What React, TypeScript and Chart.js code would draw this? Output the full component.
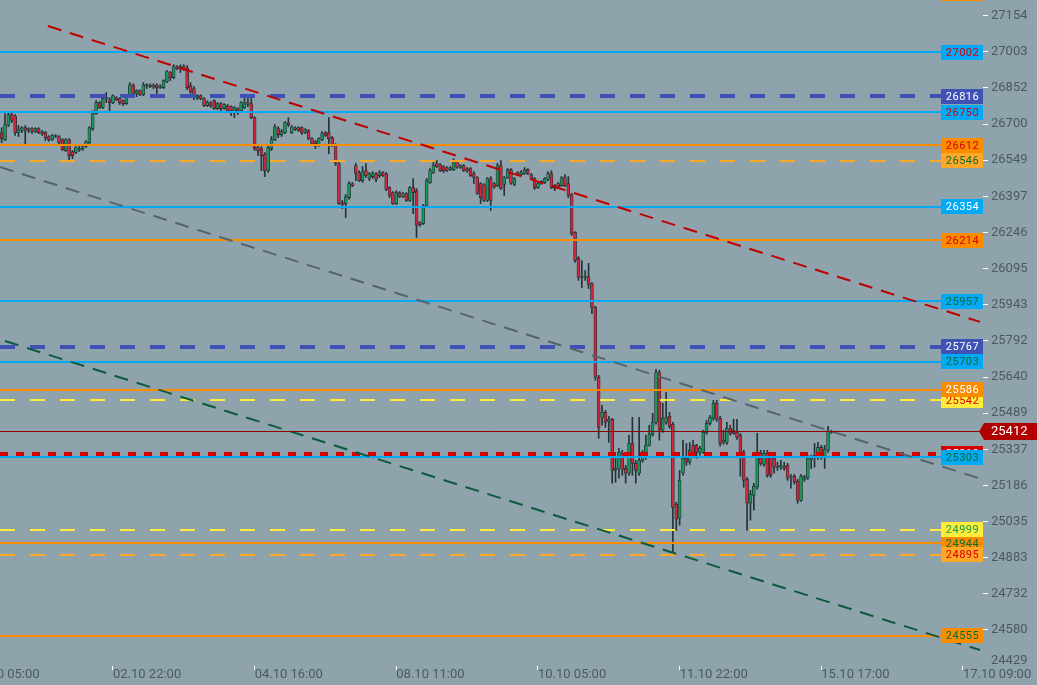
import React, { useEffect, useRef } from 'react';
import { Chart, registerables } from 'chart.js';

Chart.register(...registerables);

// ---------- data ----------
const xTickIndex = [0, 42, 84, 126, 168, 210, 252, 294];
const xTickLabels = ['01.10 05:00', '02.10 22:00', '04.10 16:00', '08.10 11:00', '10.10 05:00', '11.10 22:00', '15.10 17:00', '17.10 09:00'];
const yTickValues = [27154, 27003, 26852, 26700, 26549, 26397, 26246, 26095, 25943, 25792, 25640, 25489, 25337, 25186, 25035, 24883, 24732, 24580, 24429];

const firstCandleIndex = 9;
// [open, high, low, close] hourly candles
const candles: number[][] = [
  [26664,26685,26622,26639],[26635,26744,26631,26698],[26694,26752,26689,26740],[26740,26748,26706,26715],
  [26735,26740,26652,26664],[26664,26694,26648,26677],[26673,26689,26664,26685],[26685,26694,26610,26673],
  [26673,26685,26664,26681],[26681,26685,26660,26669],[26669,26685,26664,26681],[26681,26685,26660,26664],
  [26669,26673,26652,26660],[26664,26669,26631,26643],[26648,26652,26627,26635],[26635,26656,26631,26652],
  [26648,26656,26643,26652],[26648,26652,26618,26622],[26635,26639,26589,26593],[26589,26639,26585,26635],
  [26635,26639,26551,26568],[26585,26589,26555,26568],[26581,26606,26576,26602],[26593,26610,26585,26597],
  [26597,26614,26589,26606],[26606,26631,26602,26627],[26622,26689,26618,26685],[26681,26756,26673,26744],
  [26744,26798,26740,26790],[26790,26794,26765,26769],[26769,26819,26765,26807],[26807,26832,26790,26811],
  [26802,26811,26748,26790],[26790,26823,26786,26819],[26811,26815,26798,26802],[26807,26811,26782,26790],
  [26798,26802,26777,26786],[26786,26823,26782,26819],[26819,26874,26815,26865],[26865,26869,26823,26828],
  [26828,26844,26815,26840],[26840,26844,26819,26823],[26823,26874,26819,26865],[26861,26869,26849,26865],
  [26865,26869,26853,26857],[26857,26869,26849,26861],[26865,26869,26828,26853],[26853,26865,26849,26857],
  [26853,26886,26849,26882],[26878,26924,26874,26920],[26916,26920,26882,26895],[26895,26949,26890,26941],
  [26941,26945,26928,26932],[26932,26949,26916,26941],[26941,26949,26924,26932],[26936,26945,26844,26853],
  [26861,26874,26828,26836],[26849,26857,26802,26811],[26811,26823,26802,26819],
  [26819,26823,26802,26807],[26807,26811,26773,26777],[26777,26798,26773,26790],[26790,26794,26769,26777],
  [26798,26802,26761,26765],[26765,26790,26761,26786],[26786,26790,26756,26765],[26765,26786,26761,26782],
  [26777,26782,26748,26756],[26773,26777,26735,26756],[26748,26773,26727,26769],[26765,26769,26740,26756],
  [26756,26794,26752,26790],[26769,26807,26765,26790],[26790,26807,26773,26782],
  [26786,26807,26723,26727],[26727,26731,26589,26597],[26602,26610,26568,26589],[26597,26606,26505,26568],
  [26572,26581,26480,26505],[26505,26610,26497,26602],[26597,26648,26589,26635],[26635,26698,26631,26689],
  [26681,26689,26643,26656],[26656,26677,26648,26669],[26664,26710,26660,26706],[26706,26727,26689,26698],
  [26664,26694,26660,26689],[26685,26689,26673,26677],[26685,26689,26669,26673],[26685,26689,26656,26664],
  [26664,26681,26660,26677],[26673,26677,26635,26639],[26639,26643,26614,26618],[26627,26631,26597,26618],
  [26610,26643,26606,26639],[26635,26669,26631,26660],[26664,26669,26648,26652],[26664,26727,26576,26639],
  [26643,26648,26606,26610],[26614,26618,26526,26535],[26535,26539,26363,26367],[26371,26380,26346,26363],
  [26367,26405,26308,26396],[26392,26459,26384,26451],[26451,26455,26438,26442],[26526,26535,26463,26493],
  [26497,26505,26459,26463],[26463,26522,26455,26501],[26505,26535,26476,26484],[26472,26497,26463,26493],
  [26480,26501,26472,26493],[26493,26497,26459,26468],[26484,26505,26476,26497],[26497,26501,26480,26484],
  [26493,26497,26421,26426],[26434,26438,26392,26401],[26413,26417,26363,26367],[26367,26421,26363,26413],
  [26413,26417,26392,26396],[26396,26413,26392,26409],[26409,26413,26375,26380],[26380,26438,26375,26434],
  [26434,26472,26325,26413],[26421,26430,26225,26275],[26287,26291,26271,26279],[26283,26363,26279,26359],
  [26359,26472,26355,26463],[26455,26514,26451,26505],[26497,26547,26493,26526],[26535,26547,26518,26522],
  [26530,26535,26501,26505],[26522,26526,26497,26505],[26518,26522,26501,26505],[26509,26522,26505,26518],
  [26509,26555,26505,26543],[26543,26547,26514,26518],[26518,26530,26514,26526],[26526,26530,26501,26505],
  [26514,26518,26497,26505],[26514,26518,26480,26484],[26493,26501,26451,26476],[26476,26480,26405,26409],
  [26451,26455,26367,26392],[26447,26451,26375,26380],[26380,26476,26375,26472],[26472,26480,26338,26380],
  [26451,26455,26430,26438],[26442,26535,26438,26526],[26526,26547,26426,26430],[26447,26480,26401,26476],
  [26476,26514,26472,26509],[26509,26514,26447,26451],[26447,26476,26442,26472],[26497,26501,26484,26488],
  [26488,26505,26484,26497],[26493,26518,26488,26509],[26509,26514,26488,26493],[26488,26493,26468,26472],
  [26472,26476,26426,26434],[26434,26455,26430,26451],[26451,26463,26447,26459],[26455,26476,26451,26472],
  [26468,26501,26463,26493],[26493,26505,26430,26434],[26442,26447,26421,26430],[26451,26455,26434,26438],
  [26442,26480,26438,26476],[26476,26488,26438,26442],[26451,26480,26392,26401],[26405,26409,26233,26241],
  [26246,26250,26120,26128],
  [26137,26145,26045,26057],[26061,26128,26015,26057],[26057,26086,26045,26061],[26061,26116,26011,26028],
  [26032,26036,25906,25932],[25932,25936,25626,25639],[25639,25647,25383,25429],[25471,25521,25438,25492],
  [25492,25500,25429,25450],[25454,25475,25366,25463],[25463,25467,25195,25249],[25249,25299,25199,25257],
  [25257,25341,25216,25324],[25320,25333,25228,25253],[25257,25270,25195,25237],[25237,25396,25228,25362],
  [25362,25471,25228,25278],[25278,25291,25195,25249],[25237,25471,25228,25291],[25291,25333,25283,25312],
  [25303,25396,25295,25354],[25354,25438,25350,25400],[25400,25488,25392,25450],[25450,25672,25442,25659],
  [25659,25668,25375,25417],[25417,25530,25408,25467],[25450,25576,25442,25471],[25475,25492,25425,25433],
  [25442,25450,24905,25094],
  [25107,25115,24998,25044],[25048,25249,25019,25207],[25237,25375,25228,25299],[25299,25362,25270,25283],
  [25283,25366,25274,25333],[25354,25375,25312,25324],[25354,25358,25299,25324],[25324,25350,25312,25341],
  [25324,25417,25320,25408],[25408,25458,25400,25446],[25446,25479,25438,25471],[25467,25542,25458,25530],
  [25530,25542,25454,25463],[25467,25475,25350,25362],[25366,25417,25358,25375],[25366,25450,25358,25425],
  [25425,25438,25396,25404],[25417,25463,25400,25404],[25408,25463,25379,25387],[25396,25404,25224,25320],
  [25324,25333,25178,25207],[25211,25220,24998,25111],[25111,25165,25040,25149],[25144,25195,25082,25182],
  [25178,25404,25170,25320],[25320,25333,25270,25278],[25274,25333,25266,25320],[25320,25333,25220,25228],
  [25312,25324,25220,25228],[25299,25312,25237,25262],[25262,25283,25249,25266],[25262,25291,25253,25270],
  [25266,25283,25249,25257],[25270,25278,25207,25216],[25220,25232,25174,25224],[25224,25232,25191,25199],
  [25203,25211,25111,25123],[25123,25232,25119,25224],[25211,25228,25203,25220],[25216,25312,25211,25299],
  [25295,25312,25257,25299],[25303,25362,25262,25312],[25303,25366,25295,25345],[25345,25354,25295,25303],
  [25303,25354,25257,25337],[25333,25433,25324,25412],[25408,25417,25404,25412],
];

const levelValues = [27247, 27002, 26816, 26750, 26612, 26546, 26354, 26214, 25957, 25767, 25703, 25542, 25586, 25318, 25303, 24944, 24895, 24999, 24555];
const levelKinds = ['orange', 'blue', 'indigo', 'blue', 'orange', 'lightOrange', 'blue', 'orange', 'blue', 'indigo', 'blue', 'yellow', 'orange', 'red', 'blue', 'orange', 'lightOrange', 'yellow', 'orange'];
const levelTextKinds = ['red', 'red', 'white', 'red', 'red', 'green', 'white', 'red', 'green', 'white', 'green', 'red', 'white', 'white', 'green', 'green', 'red', 'lgreen', 'green'];

const trendFromIndex = [22.7, 8.5, 10];
const trendFromPrice = [27111, 26520, 25791];
const trendToIndex = [299.05, 298.46, 299.05];
const trendToPrice = [25871, 25217, 24496];
const trendKinds = ['red', 'grey', 'green'];

// ---------- styles ----------
const BG = '#8fa3ac';
const AXIS_TEXT = '#4a5a62';
const FONT = 'Roboto, "Noto Sans", sans-serif';
const UP = '#169a58';
const DOWN = '#d6243a';
const OUTLINE = '#263238';
const BOX_W = 42;
const BOX_H = 15;
const LEVEL_STYLE: Record<string, { color: string; width: number; dash: number[] }> = {
  blue: { color: '#03a9f4', width: 2, dash: [] },
  orange: { color: '#fb8c00', width: 2, dash: [] },
  lightOrange: { color: '#ffa726', width: 2, dash: [15, 15] },
  yellow: { color: '#ffeb3b', width: 2, dash: [15, 15] },
  indigo: { color: '#3f51b5', width: 4, dash: [15, 15] },
  red: { color: '#d50000', width: 4, dash: [8, 8] },
};
const TEXT_COLOR: Record<string, string> = { red: '#d50000', white: '#ffffff', green: '#0b6b35', lgreen: '#1a9b4b' };
const TREND_COLOR: Record<string, string> = { red: '#c00000', grey: '#56656c', green: '#0b5a3c' };

const X_MIN = 8.51;
const X_MAX = 299.94;
const Y_MIN = 24429;
const Y_MAX = 27220;

const zeroPadding = (s: any) => {
  s.paddingLeft = 0;
  s.paddingRight = 0;
  s.paddingTop = 0;
  s.paddingBottom = 0;
};

const overlayPlugin = {
  id: 'overlay',
  afterDatasetsDraw(chart: any) {
    const { ctx, chartArea: a, scales } = chart;
    const xs = scales.x;
    const ys = scales.y;
    ctx.save();
    ctx.beginPath();
    ctx.rect(a.left, a.top, a.right - a.left, a.bottom - a.top);
    ctx.clip();
    const boxLeft = a.right - BOX_W;
    levelValues.forEach((v, n) => {
      const st = LEVEL_STYLE[levelKinds[n]];
      let py = Math.round(ys.getPixelForValue(v));
      if (st.width % 2 === 1) py += 0.5;
      ctx.strokeStyle = st.color;
      ctx.lineWidth = st.width;
      ctx.setLineDash(st.dash);
      ctx.beginPath();
      ctx.moveTo(a.left, py);
      ctx.lineTo(boxLeft, py);
      ctx.stroke();
    });
    trendKinds.forEach((k, n) => {
      ctx.strokeStyle = TREND_COLOR[k];
      ctx.lineWidth = 2;
      ctx.setLineDash([14, 9]);
      ctx.beginPath();
      ctx.moveTo(xs.getPixelForValue(trendFromIndex[n]), ys.getPixelForValue(trendFromPrice[n]));
      ctx.lineTo(xs.getPixelForValue(trendToIndex[n]), ys.getPixelForValue(trendToPrice[n]));
      ctx.stroke();
    });
    const last = candles[candles.length - 1][3];
    const lp = Math.round(ys.getPixelForValue(last)) + 0.5;
    ctx.setLineDash([]);
    ctx.strokeStyle = '#8b0000';
    ctx.lineWidth = 1;
    ctx.beginPath();
    ctx.moveTo(a.left, lp);
    ctx.lineTo(a.right, lp);
    ctx.stroke();
    ctx.restore();
  },
  afterDraw(chart: any) {
    const { ctx, chartArea: a, scales } = chart;
    const ys = scales.y;
    const boxLeft = a.right - BOX_W;
    ctx.save();
    ctx.font = `11px ${FONT}`;
    (ctx as any).letterSpacing = '0.5px';
    ctx.textAlign = 'center';
    ctx.textBaseline = 'middle';
    levelValues.forEach((v, n) => {
      const st = LEVEL_STYLE[levelKinds[n]];
      const py = ys.getPixelForValue(v);
      const top = Math.round(py - BOX_H / 2);
      ctx.fillStyle = st.color;
      ctx.fillRect(boxLeft, top, BOX_W, BOX_H);
      ctx.fillStyle = TEXT_COLOR[levelTextKinds[n]];
      ctx.fillText(String(v), boxLeft + BOX_W / 2 + 0.5, top + BOX_H / 2 + 0.5);
    });
    const last = candles[candles.length - 1][3];
    const py = Math.round(ys.getPixelForValue(last)) + 0.5;
    const h = 8.5;
    ctx.fillStyle = '#b00000';
    ctx.beginPath();
    ctx.moveTo(a.right - 4, py);
    ctx.lineTo(a.right + 1, py - h);
    ctx.lineTo(chart.width, py - h);
    ctx.lineTo(chart.width, py + h);
    ctx.lineTo(a.right + 1, py + h);
    ctx.closePath();
    ctx.fill();
    (ctx as any).letterSpacing = '0px';
    ctx.font = `13px ${FONT}`;
    ctx.fillStyle = '#ffffff';
    ctx.textAlign = 'left';
    ctx.fillText(String(last), a.right + 8, py + 0.5);
    ctx.restore();
  },
};

export default function App() {
  const ref = useRef<HTMLCanvasElement | null>(null);
  useEffect(() => {
    if (!ref.current) return;
    const bodyData = candles.map((c, k) => ({ x: firstCandleIndex + k, y: [c[0], c[3]] }));
    const wickData = candles.map((c, k) => ({ x: firstCandleIndex + k, y: [c[2], c[1]] }));
    const bodyColors = candles.map((c) => (c[3] >= c[0] ? UP : DOWN));
    const lastTick = yTickValues[yTickValues.length - 1];
    const chart = new Chart(ref.current, {
      type: 'bar',
      data: {
        datasets: [
          {
            label: 'body',
            data: bodyData as any,
            backgroundColor: bodyColors,
            borderColor: OUTLINE,
            borderWidth: 0.8,
            borderSkipped: false,
            barThickness: 3,
            minBarLength: 1,
            grouped: false,
            order: 0,
          } as any,
          {
            label: 'wick',
            data: wickData as any,
            backgroundColor: OUTLINE,
            borderWidth: 0,
            barThickness: 1,
            minBarLength: 1,
            grouped: false,
            order: 1,
          } as any,
        ],
      },
      options: {
        animation: false,
        responsive: false,
        devicePixelRatio: 1,
        events: [],
        layout: { padding: 0 },
        plugins: { legend: { display: false }, tooltip: { enabled: false } },
        scales: {
          x: {
            type: 'linear',
            min: X_MIN,
            max: X_MAX,
            offset: false,
            afterBuildTicks: (s: any) => {
              s.ticks = xTickIndex.map((v) => ({ value: v }));
            },
            afterFit: (s: any) => {
              s.height = 19;
              zeroPadding(s);
            },
            ticks: {
              autoSkip: false,
              maxRotation: 0,
              minRotation: 0,
              align: 'start',
              padding: -3,
              color: AXIS_TEXT,
              font: { family: FONT, size: 13 },
              callback: (v: any) => {
                const k = xTickIndex.indexOf(Number(v));
                return k >= 0 ? xTickLabels[k] : '';
              },
            },
            grid: { display: true, offset: false, drawOnChartArea: false, drawTicks: true, tickLength: 4, tickColor: '#ffffff', tickWidth: 1 },
            border: { display: false },
          } as any,
          y: {
            type: 'linear',
            position: 'right',
            min: Y_MIN,
            max: Y_MAX,
            afterBuildTicks: (s: any) => {
              s.ticks = yTickValues.map((v) => ({ value: v }));
            },
            afterFit: (s: any) => {
              s.width = 54;
              zeroPadding(s);
            },
            ticks: {
              padding: 3,
              color: AXIS_TEXT,
              font: (c: any) => ({
                family: FONT,
                size: 13,
                lineHeight: c.tick && c.tick.value === lastTick ? '10px' : 1.2,
              }),
              callback: (v: any) => (Number(v) === lastTick ? [String(v), ''] : String(v)),
            },
            grid: {
              display: true,
              drawOnChartArea: false,
              drawTicks: true,
              tickLength: 5,
              tickWidth: 1,
              tickColor: (c: any) => (c.tick && c.tick.value === lastTick ? 'rgba(0,0,0,0)' : '#ffffff'),
            },
            border: { display: false },
          } as any,
        },
      },
      plugins: [overlayPlugin],
    });
    return () => chart.destroy();
  }, []);
  return (
    <div style={{ position: 'fixed', left: 0, top: 0, width: 1037, height: 685, background: BG, overflow: 'hidden' }}>
      <canvas ref={ref} width={1037} height={685} style={{ display: 'block', width: 1037, height: 685 }} />
    </div>
  );
}
